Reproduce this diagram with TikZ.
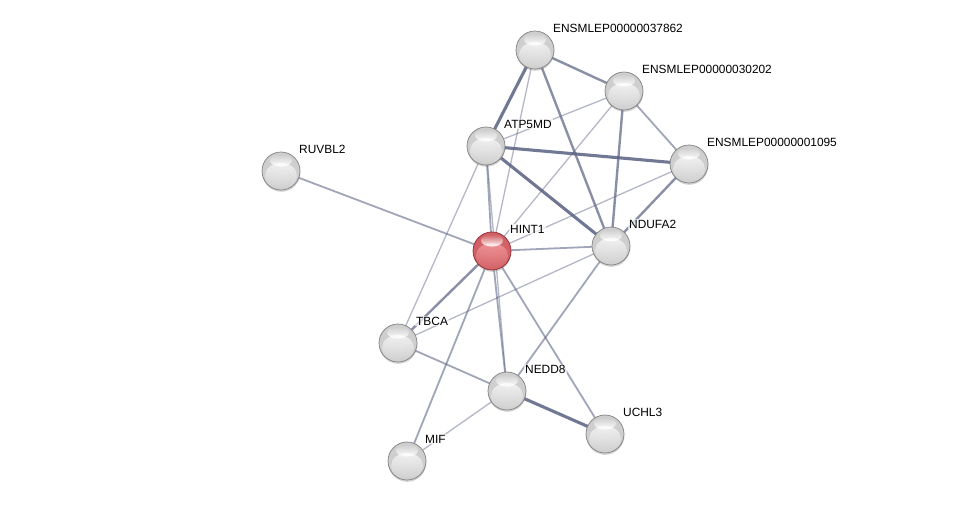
\documentclass[tikz,border=0pt]{standalone}
\usepackage{fontspec}
\setmainfont{Liberation Sans}
\usetikzlibrary{shadows,fadings}
\pgfdeclarelayer{bg}
\pgfsetlayers{bg,main}
\definecolor{edg}{RGB}{88,96,128}
\definecolor{redbody}{RGB}{208,92,98}
\definecolor{redrim}{RGB}{145,42,48}
\definecolor{redglow}{RGB}{250,165,167}
\pgfdeclareradialshading{gsphere}{\pgfpoint{0bp}{0bp}}{color(0bp)=(black!17); color(30bp)=(black!20); color(40bp)=(black!27); color(46bp)=(black!40); color(50bp)=(black!58)}
\pgfdeclareradialshading{rsphere}{\pgfpoint{0bp}{0bp}}{color(0bp)=(redbody!90!white); color(30bp)=(redbody); color(40bp)=(redbody!92!black); color(46bp)=(redbody!70!black); color(50bp)=(redrim)}
\tikzset{
  sphere/.style n args={3}{circle, minimum size=38pt, inner sep=0pt, shading=#1, draw=#3, line width=0.7pt,
    drop shadow={opacity=0.35, shadow xshift=0.3pt, shadow yshift=-1.8pt},
    path picture={
      \fill[#2, path fading=south, fill opacity=0.95]
        ([yshift=-5pt]path picture bounding box.center) ellipse [x radius=16pt, y radius=13pt];
      \fill[white, path fading=north, fill opacity=0.95]
        ([yshift=10.5pt]path picture bounding box.center) ellipse [x radius=11pt, y radius=6pt];}},
  gball/.style={sphere={gsphere}{white}{black!50}},
  rball/.style={sphere={rsphere}{redglow}{redrim}},
  lbl/.style={anchor=west, inner sep=1pt, fill=white, fill opacity=0.7, text opacity=1,
    font=\fontsize{11.9}{13}\selectfont},
  eA/.style={draw=edg, line width=1.3pt, draw opacity=0.45},
  eB/.style={draw=edg, line width=1.8pt, draw opacity=0.57},
  eC/.style={draw=edg, line width=2.4pt, draw opacity=0.7},
  eD/.style={draw=edg, line width=3.1pt, draw opacity=0.85}
}
\begin{document}
\begin{tikzpicture}[x=1pt,y=-1pt]
\useasboundingbox (0,0) rectangle (976,507);
% nodes
\node[gball] (e378) at (535,50) {};
\node[gball] (e302) at (624,91) {};
\node[gball] (atp) at (486,146) {};
\node[gball] (e109) at (689,164) {};
\node[gball] (ruv) at (281,171) {};
\node[rball] (hint) at (492,251) {};
\node[gball] (ndu) at (611,246) {};
\node[gball] (tbca) at (398,343) {};
\node[gball] (nedd) at (507,391) {};
\node[gball] (uchl) at (605,434) {};
\node[gball] (mif) at (407,461) {};
% labels
\node[lbl] (le378) at ([xshift=17pt,yshift=22pt]e378.center) {ENSMLEP00000037862};
\node[lbl] (le302) at ([xshift=17pt,yshift=22pt]e302.center) {ENSMLEP00000030202};
\node[lbl] (latp) at ([xshift=17pt,yshift=22pt]atp.center) {ATP5MD};
\node[lbl] (le109) at ([xshift=17pt,yshift=22pt]e109.center) {ENSMLEP00000001095};
\node[lbl] (lruv) at ([xshift=17pt,yshift=22pt]ruv.center) {RUVBL2};
\node[lbl] (lhint) at ([xshift=17pt,yshift=22pt]hint.center) {HINT1};
\node[lbl] (lndu) at ([xshift=17pt,yshift=22pt]ndu.center) {NDUFA2};
\node[lbl] (ltbca) at ([xshift=17pt,yshift=22pt]tbca.center) {TBCA};
\node[lbl] (lnedd) at ([xshift=17pt,yshift=22pt]nedd.center) {NEDD8};
\node[lbl] (luchl) at ([xshift=17pt,yshift=22pt]uchl.center) {UCHL3};
\node[lbl] (lmif) at ([xshift=17pt,yshift=22pt]mif.center) {MIF};
% edges
\begin{pgfonlayer}{bg}
\draw[eC] (e378.center) -- (e302.center);
\draw[eD] (e378.center) -- (atp.center);
\draw[eA] (e378.center) -- (hint.center);
\draw[eC] (e378.center) -- (ndu.center);
\draw[eA] (e302.center) -- (atp.center);
\draw[eA] (e302.center) -- (hint.center);
\draw[eB] (e302.center) -- (e109.center);
\draw[eC] (e302.center) -- (ndu.center);
\draw[eD] (atp.center) -- (e109.center);
\draw[eD] (atp.center) -- (ndu.center);
\draw[eB] (atp.center) -- (hint.center);
\draw[eA] (atp.center) -- (nedd.center);
\draw[eA] (atp.center) -- (tbca.center);
\draw[eC] (e109.center) -- (ndu.center);
\draw[eA] (e109.center) -- (hint.center);
\draw[eB] (ruv.center) -- (hint.center);
\draw[eB] (hint.center) -- (ndu.center);
\draw[eC] (hint.center) -- (tbca.center);
\draw[eB] (hint.center) -- (mif.center);
\draw[eB] (hint.center) -- (nedd.center);
\draw[eB] (hint.center) -- (uchl.center);
\draw[eA] (tbca.center) -- (ndu.center);
\draw[eB] (tbca.center) -- (nedd.center);
\draw[eA] (nedd.center) -- (mif.center);
\draw[eD] (nedd.center) -- (uchl.center);
\draw[eB] (nedd.center) -- (ndu.center);
\end{pgfonlayer}
\end{tikzpicture}
\end{document}
